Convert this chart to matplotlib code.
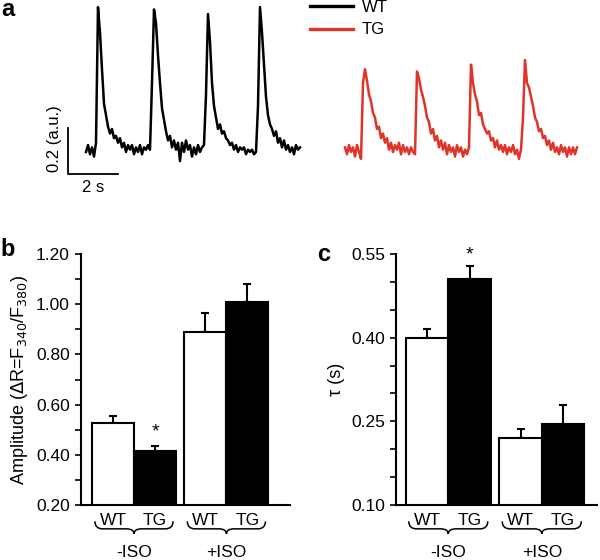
import numpy as np
import matplotlib
matplotlib.use("Agg")
import matplotlib.pyplot as plt
from matplotlib.path import Path
from matplotlib.patches import PathPatch
from matplotlib.transforms import blended_transform_factory

plt.rcParams['font.family'] = ['Liberation Sans', 'DejaVu Sans']
plt.rcParams['font.size'] = 12

# ---- data -------------------------------------------------------------
# Ca2+ transients (a.u., baseline = 0), sampled every 0.08 s
DT = 0.08
wt_trace = [0.00, 0.03, -0.01, 0.02, -0.02, 0.04, 0.63, 0.52, 0.36, 0.21,
            0.16, 0.11, 0.08, 0.10, 0.06, 0.07, 0.04, 0.06, 0.02, 0.04,
            0.00, 0.03, 0.01, 0.03, -0.01, 0.02, 0.00, 0.03, -0.01, 0.02,
            0.01, 0.03, 0.01, 0.30, 0.62, 0.56, 0.42, 0.30, 0.19, 0.14,
            0.09, 0.05, 0.07, 0.02, 0.05, 0.01, 0.04, -0.04, 0.04, 0.00,
            0.05, 0.01, 0.03, -0.02, 0.02, -0.01, 0.03, 0.00, 0.02, 0.03,
            0.25, 0.60, 0.48, 0.30, 0.20, 0.15, 0.10, 0.12, 0.08, 0.09,
            0.06, 0.05, 0.03, 0.04, 0.01, 0.03, 0.00, 0.02, 0.01, 0.02,
            -0.01, 0.01, 0.00, 0.01, -0.01, 0.00, 0.20, 0.63, 0.52, 0.38,
            0.24, 0.16, 0.12, 0.10, 0.07, 0.09, 0.04, 0.06, 0.02, 0.05,
            0.01, 0.03, 0.00, 0.02, -0.01, 0.03, 0.01, 0.02]
tg_trace = [0.02, -0.01, 0.03, 0.00, 0.02, -0.02, 0.03, 0.00, -0.03, 0.30,
            0.36, 0.31, 0.25, 0.22, 0.17, 0.15, 0.10, 0.11, 0.06, 0.08,
            0.04, 0.06, 0.01, 0.04, 0.00, 0.03, 0.01, 0.04, -0.01, 0.03,
            0.00, 0.02, -0.01, 0.02, 0.00, -0.01, 0.35, 0.32, 0.27, 0.24,
            0.20, 0.15, 0.13, 0.08, 0.10, 0.05, 0.07, 0.02, 0.05, 0.01,
            0.04, -0.01, 0.03, 0.00, 0.02, -0.02, 0.03, 0.00, 0.02, -0.02,
            0.01, -0.01, 0.02, 0.38, 0.30, 0.25, 0.22, 0.16, 0.17, 0.12,
            0.10, 0.08, 0.09, 0.05, 0.06, 0.02, 0.05, 0.01, 0.03, 0.00,
            0.03, -0.01, 0.02, 0.00, 0.03, -0.01, 0.01, -0.03, 0.01, 0.15,
            0.40, 0.30, 0.28, 0.24, 0.20, 0.15, 0.13, 0.09, 0.10, 0.06,
            0.07, 0.03, 0.05, 0.01, 0.04, 0.00, 0.02, -0.01, 0.03, 0.00,
            0.02, -0.02, 0.02, -0.01, 0.02, -0.01, 0.02]
TG_START = 10.36  # s, where the TG trace is drawn

groups = ["WT", "TG", "WT", "TG"]
conditions = ["-ISO", "+ISO"]
amp_mean = [0.525, 0.415, 0.89, 1.01]
amp_sem = [0.03, 0.022, 0.075, 0.07]
tau_mean = [0.40, 0.505, 0.22, 0.245]
tau_sem = [0.016, 0.024, 0.016, 0.034]

RED = '#e0332a'
W, H = 600, 560


def px_axes(fig, x0, y0, x1, y1):
    # add axes from a pixel box (top-left origin)
    return fig.add_axes([x0 / W, 1 - y1 / H, (x1 - x0) / W, (y1 - y0) / H])


def brace(ax, x0, x1, top, depth, lw=1.1):
    # horizontal curly brace opening upward; y in axes fraction
    tr = blended_transform_factory(ax.transData, ax.transAxes)
    xc = (x0 + x1) / 2
    r = (x1 - x0) * 0.1
    mid = top - depth * 0.6
    bot = top - depth
    verts = [(x0, top), (x0, mid), (x0 + r, mid),
             (xc - r, mid), (xc, mid), (xc, bot),
             (xc, mid), (xc + r, mid),
             (x1 - r, mid), (x1, mid), (x1, top)]
    codes = [Path.MOVETO, Path.CURVE3, Path.CURVE3,
             Path.LINETO, Path.CURVE3, Path.CURVE3,
             Path.CURVE3, Path.CURVE3,
             Path.LINETO, Path.CURVE3, Path.CURVE3]
    ax.add_patch(PathPatch(Path(verts, codes), fill=False, lw=lw,
                           transform=tr, clip_on=False))


def bar_panel(ax, means, sems, ylim, yticks, minor, ylabel, star_y, xlim):
    pos = np.array([0, 1, 2.2, 3.2])
    colors = ['white', 'black', 'white', 'black']
    ax.bar(pos, means, width=1.0, color=colors, edgecolor='black',
           linewidth=1.5, zorder=2)
    ax.errorbar(pos, means, yerr=[np.zeros(4), sems], fmt='none',
                ecolor='black', elinewidth=1.5, capsize=3, capthick=1.5,
                zorder=1)
    ax.set_ylim(*ylim)
    ax.set_xlim(*xlim)
    ax.set_yticks(yticks)
    ax.set_yticks(minor, minor=True)
    ax.set_yticklabels([f"{v:.2f}" for v in yticks], fontsize=12.5)
    ax.tick_params(axis='y', which='both', direction='out', length=4,
                   width=1.2, pad=4)
    ax.set_xticks(pos)
    ax.set_xticklabels(groups, fontsize=12.5)
    ax.tick_params(axis='x', length=0, pad=6)
    for s in ['top', 'right']:
        ax.spines[s].set_visible(False)
    for s in ['left', 'bottom']:
        ax.spines[s].set_linewidth(1.5)
    ax.set_ylabel(ylabel, fontsize=13)
    ax.text(1, star_y, '*', ha='center', va='center', fontsize=14)
    tr = blended_transform_factory(ax.transData, ax.transAxes)
    for i, cond in enumerate(conditions):
        c = pos[2 * i:2 * i + 2].mean()
        brace(ax, c - 0.93, c + 0.93, -0.065, 0.05)
        ax.text(c, -0.19, cond, transform=tr, ha='center', va='center',
                fontsize=12.5)


fig = plt.figure(figsize=(W / 100, H / 100), dpi=100)

# ---- panel a: traces --------------------------------------------------
ax_a = px_axes(fig, 60, 0, 600, 200)
ax_a.set_xlim(-1.04, 20.56)
ax_a.set_ylim(-0.209, 0.661)
ax_a.axis('off')
t_wt = np.arange(len(wt_trace)) * DT
t_tg = TG_START + np.arange(len(tg_trace)) * DT
ax_a.plot(t_wt, wt_trace, color='black', lw=1.8, label='WT')
ax_a.plot(t_tg, tg_trace, color=RED, lw=1.8, label='TG')
# scale bar: 2 s x 0.2 a.u.
sb_x, sb_y = -0.72, -0.096
ax_a.plot([sb_x, sb_x, sb_x + 2], [sb_y + 0.2, sb_y, sb_y], color='black',
          lw=1.3, solid_joinstyle='miter')
ax_a.text(sb_x + 1, sb_y - 0.028, '2 s', ha='center', va='top', fontsize=12)
ax_a.text(sb_x - 0.55, sb_y + 0.01, '0.2 (a.u.)', ha='center', va='bottom',
          rotation=90, fontsize=12)
leg = ax_a.legend(loc='upper left', bbox_to_anchor=(310 / W, 1.0),
                  bbox_transform=fig.transFigure, frameon=False,
                  handlelength=2.6, labelspacing=0.45, borderpad=0,
                  borderaxespad=0, handletextpad=0.5, fontsize=12)
for ln in leg.get_lines():
    ln.set_linewidth(2.4)

# ---- panel b: amplitude -----------------------------------------------
ax_b = px_axes(fig, 81, 254, 290, 505)
bar_panel(ax_b, amp_mean, amp_sem, (0.2, 1.2),
          np.arange(0.2, 1.21, 0.2), np.arange(0.2, 1.21, 0.1),
          r'Amplitude ($\Delta$R=F$_{340}$/F$_{380}$)', 0.49,
          (-0.762, 4.214))

# ---- panel c: tau -----------------------------------------------------
ax_c = px_axes(fig, 396, 254, 597, 505)
bar_panel(ax_c, tau_mean, tau_sem, (0.1, 0.55),
          [0.10, 0.25, 0.40, 0.55], np.arange(0.10, 0.551, 0.05),
          'τ (s)', 0.548, (-0.73, 4.0))

fig.text(8 / W, 1 - 10 / H, 'a', fontsize=17, fontweight='bold',
         ha='center', va='center')
fig.text(8 / W, 1 - 250 / H, 'b', fontsize=17, fontweight='bold',
         ha='center', va='center')
fig.text(324 / W, 1 - 255 / H, 'c', fontsize=17, fontweight='bold',
         ha='center', va='center')

fig.savefig('out.png', dpi=100)
